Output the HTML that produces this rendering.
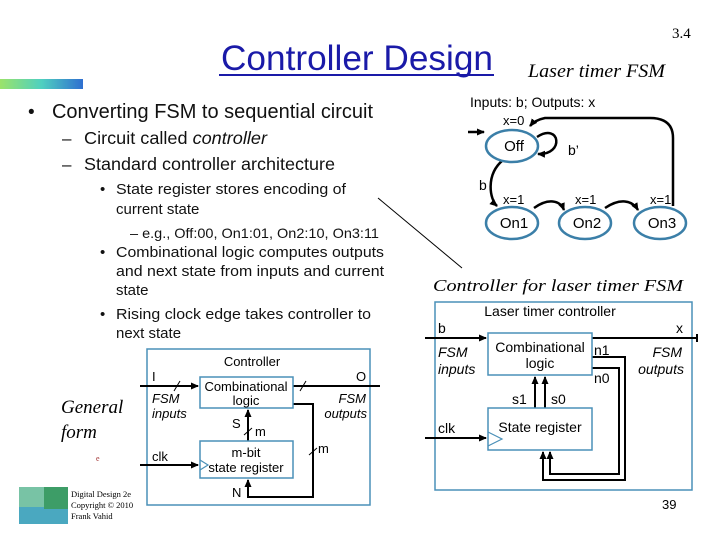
<!DOCTYPE html>
<html><head><meta charset="utf-8"><style>
body{margin:0;background:#fff}
svg{display:block}
.s{font-family:"Liberation Sans",sans-serif}
.r{font-family:"Liberation Serif",serif}
</style></head><body>
<svg width="720" height="540" viewBox="0 0 720 540" xmlns="http://www.w3.org/2000/svg">
<defs>
<linearGradient id="g" x1="0" x2="1"><stop offset="0" stop-color="#9be36a"/><stop offset="0.5" stop-color="#4fd0c0"/><stop offset="1" stop-color="#2f6fd0"/></linearGradient>
<marker id="a" markerWidth="8" markerHeight="8" refX="7" refY="4" orient="auto" markerUnits="userSpaceOnUse"><path d="M0,0.5 L8,4 L0,7.5z" fill="#000"/></marker>
</defs>
<rect x="0" y="79" width="83" height="10" fill="url(#g)"/>
<text x="672" y="38" class="r" font-size="15">3.4</text>
<text x="357" y="70" class="s" font-size="35" fill="#1a1aa8" text-anchor="middle" textLength="272" lengthAdjust="spacingAndGlyphs">Controller Design</text>
<line x1="219" y1="75" x2="494" y2="75" stroke="#1a1aa8" stroke-width="2"/>
<text x="528" y="77" class="r" font-size="19" font-style="italic" textLength="137" lengthAdjust="spacingAndGlyphs">Laser timer FSM</text>

<g class="s" fill="#111">
<text x="28" y="118" font-size="19">•</text>
<text x="52" y="118" font-size="20" textLength="321" lengthAdjust="spacingAndGlyphs">Converting FSM to sequential circuit</text>
<text x="62" y="144" font-size="17">–</text>
<text x="84" y="144" font-size="17.5" textLength="183" lengthAdjust="spacingAndGlyphs">Circuit called <tspan font-style="italic">controller</tspan></text>
<text x="62" y="170" font-size="17">–</text>
<text x="84" y="170" font-size="17.5" textLength="251" lengthAdjust="spacingAndGlyphs">Standard controller architecture</text>
<g font-size="15">
<text x="100" y="194">•</text><text x="116" y="194" textLength="230" lengthAdjust="spacingAndGlyphs">State register stores encoding of</text>
<text x="116" y="214">current state</text>
<text x="130" y="238" font-size="14" textLength="249" lengthAdjust="spacingAndGlyphs">–  e.g., Off:00, On1:01, On2:10, On3:11</text>
<text x="100" y="257">•</text><text x="116" y="257" textLength="268" lengthAdjust="spacingAndGlyphs">Combinational logic computes outputs</text>
<text x="116" y="276" textLength="268" lengthAdjust="spacingAndGlyphs">and next state from inputs and current</text>
<text x="116" y="295">state</text>
<text x="100" y="319">•</text><text x="116" y="319" textLength="255" lengthAdjust="spacingAndGlyphs">Rising clock edge takes controller to</text>
<text x="116" y="338">next state</text>
</g></g>
<line x1="378" y1="198" x2="462" y2="268" stroke="#000" stroke-width="1"/>

<!-- FSM -->
<g class="s" font-size="14" fill="#000">
<text x="470" y="107">Inputs: b; Outputs: x</text>
<text x="503" y="125" font-size="13">x=0</text>
<text x="568" y="155">b’</text>
<text x="479" y="190">b</text>
<text x="503" y="204" font-size="13">x=1</text>
<text x="575" y="204" font-size="13">x=1</text>
<text x="650" y="204" font-size="13">x=1</text>
</g>
<g fill="none" stroke="#000" stroke-width="2.5">
<line x1="468" y1="132" x2="484" y2="132" marker-end="url(#a)"/>
<path d="M537,137 C560,122 565,155 538,154" marker-end="url(#a)"/>
<path d="M503,160 C485,175 490,200 497,206" marker-end="url(#a)"/>
<path d="M534,208 C548,198 560,200 564,210" marker-end="url(#a)"/>
<path d="M605,208 C620,198 632,200 638,210" marker-end="url(#a)"/>
<path d="M673,206 L673,138 Q673,118 650,118 L545,118 Q535,120 530,126" marker-end="url(#a)"/>
</g>
<g fill="#fff" stroke="#3b7fa8" stroke-width="2.5">
<ellipse cx="512" cy="146" rx="26" ry="16"/>
<ellipse cx="512" cy="223" rx="26" ry="16"/>
<ellipse cx="585" cy="223" rx="26" ry="16"/>
<ellipse cx="660" cy="223" rx="26" ry="16"/>
</g>
<g class="s" font-size="15" text-anchor="middle">
<text x="514" y="151">Off</text><text x="514" y="228">On1</text><text x="587" y="228">On2</text><text x="662" y="228">On3</text>
</g>
<text x="433" y="291" class="r" font-size="17" font-style="italic" textLength="250" lengthAdjust="spacingAndGlyphs">Controller for laser timer FSM</text>

<!-- Laser controller -->
<rect x="435" y="302" width="257" height="188" fill="none" stroke="#4a90b8" stroke-width="1.5"/>
<g fill="none" stroke="#000" stroke-width="2">
<line x1="425" y1="338" x2="486" y2="338" marker-end="url(#a)"/>
<line x1="592" y1="338" x2="697" y2="338"/>
<line x1="425" y1="438" x2="486" y2="438" marker-end="url(#a)"/>
<path d="M592,357 L625,357 L625,480 L543,480 L543,452" marker-end="url(#a)"/>
<path d="M592,368 L619,368 L619,474 L550,474 L550,452" marker-end="url(#a)"/>
<line x1="535" y1="408" x2="535" y2="377" marker-end="url(#a)"/>
<line x1="545" y1="408" x2="545" y2="377" marker-end="url(#a)"/>
</g>
<path d="M697,334 L697,342" stroke="#000" stroke-width="2"/>
<rect x="488" y="333" width="104" height="42" fill="#fff" stroke="#4a90b8" stroke-width="1.5"/>
<rect x="488" y="408" width="104" height="42" fill="#fff" stroke="#4a90b8" stroke-width="1.5"/>
<path d="M488,432 L502,439 L488,446" fill="none" stroke="#4a90b8" stroke-width="1.2"/>
<g class="s" font-size="14" fill="#000">
<text x="550" y="316" text-anchor="middle">Laser timer controller</text>
<text x="438" y="333">b</text><text x="676" y="333">x</text>
<text x="540" y="352" text-anchor="middle">Combinational</text>
<text x="540" y="368" text-anchor="middle">logic</text>
<text x="540" y="432" text-anchor="middle">State register</text>
<text x="438" y="433">clk</text>
<text x="594" y="355">n1</text><text x="594" y="383">n0</text>
<text x="512" y="404">s1</text><text x="551" y="404">s0</text>
<g font-style="italic"><text x="438" y="357">FSM</text><text x="438" y="374">inputs</text>
<text x="682" y="357" text-anchor="end">FSM</text><text x="684" y="374" text-anchor="end">outputs</text></g>
</g>

<!-- General form -->
<rect x="147" y="349" width="223" height="156" fill="none" stroke="#4a90b8" stroke-width="1.5"/>
<g fill="none" stroke="#000" stroke-width="2">
<line x1="140" y1="386" x2="198" y2="386" marker-end="url(#a)"/>
<line x1="293" y1="386" x2="380" y2="386"/>
<line x1="140" y1="465" x2="198" y2="465" marker-end="url(#a)"/>
<path d="M293,404 L313,404 L313,497 L248,497 L248,480" marker-end="url(#a)"/>
<line x1="248" y1="441" x2="248" y2="410" marker-end="url(#a)"/>
</g>
<g stroke="#000" stroke-width="1"><line x1="174" y1="391" x2="180" y2="381"/><line x1="300" y1="391" x2="306" y2="381"/><line x1="244" y1="435" x2="252" y2="428"/><line x1="309" y1="455" x2="317" y2="448"/></g>
<rect x="200" y="377" width="93" height="31" fill="#fff" stroke="#4a90b8" stroke-width="1.5"/>
<rect x="200" y="441" width="93" height="37" fill="#fff" stroke="#4a90b8" stroke-width="1.5"/>
<path d="M200,460 L208,465 L200,470" fill="none" stroke="#4a90b8" stroke-width="1.2"/>
<g class="s" font-size="13" fill="#000">
<text x="252" y="366" text-anchor="middle">Controller</text>
<text x="152" y="381">I</text><text x="356" y="381">O</text>
<text x="246" y="391" text-anchor="middle">Combinational</text>
<text x="246" y="405" text-anchor="middle">logic</text>
<text x="246" y="457" text-anchor="middle">m-bit</text>
<text x="246" y="472" text-anchor="middle">state register</text>
<text x="152" y="461">clk</text>
<text x="232" y="428">S</text><text x="255" y="436">m</text><text x="318" y="453">m</text><text x="232" y="497">N</text>
<g font-style="italic"><text x="152" y="403">FSM</text><text x="152" y="418">inputs</text>
<text x="366" y="403" text-anchor="end">FSM</text><text x="367" y="418" text-anchor="end">outputs</text></g>
</g>
<text x="61" y="413" class="r" font-size="19" font-style="italic">General</text>
<text x="61" y="438" class="r" font-size="19" font-style="italic">form</text>
<text x="96" y="461" class="r" font-size="8" fill="#a03030">e</text>

<rect x="19" y="487" width="49" height="37" fill="#4aa8c0"/>
<rect x="19" y="487" width="25" height="20" fill="#8ccf9a" opacity="0.7"/>
<rect x="44" y="487" width="24" height="22" fill="#3a9a50" opacity="0.8"/>
<g class="r" font-size="8.5"><text x="71" y="497">Digital Design 2e</text><text x="71" y="508">Copyright © 2010</text><text x="71" y="519">Frank Vahid</text></g>
<text x="662" y="509" class="s" font-size="13">39</text>
</svg>
</body></html>
